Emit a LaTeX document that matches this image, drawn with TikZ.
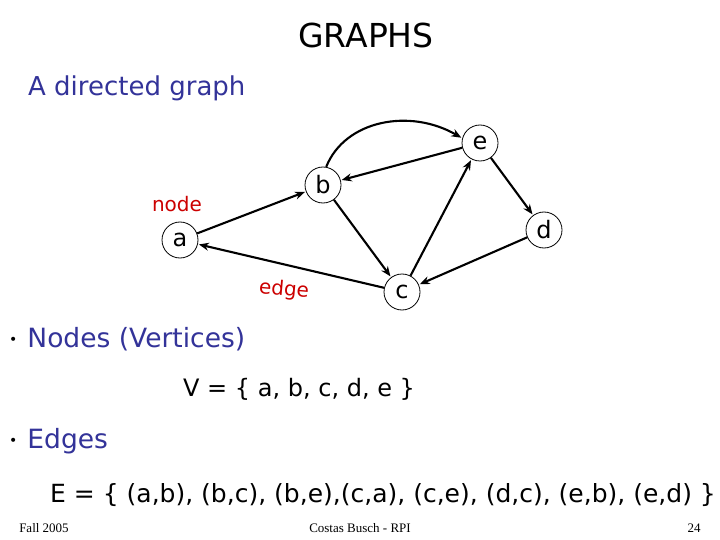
\documentclass[tikz,border=0pt]{standalone}
\usepackage{fontspec}
\setmainfont{DejaVu Sans}
\newfontfamily\footfont{Liberation Serif}
\usetikzlibrary{arrows.meta}
\definecolor{slideblue}{RGB}{51,51,153}
\definecolor{slidered}{RGB}{204,0,0}
\begin{document}
\begin{tikzpicture}[x=1pt,y=-1pt,
  vtx/.style={circle,draw,line width=0.8pt,minimum size=36pt,inner sep=0pt,font=\fontsize{24}{24}\selectfont},
  edg/.style={line width=2.1pt,-{Stealth[length=10pt,width=8pt]},shorten >=1pt},
  bluetext/.style={text=slideblue,anchor=base west,inner sep=0pt},
  blacktext/.style={text=black,anchor=base west,inner sep=0pt},
  foot/.style={font=\footfont\fontsize{13}{13}\selectfont,anchor=base,inner sep=0pt}]
\useasboundingbox[fill=white] (0,0) rectangle (720,540);
% title and headings
\node[inner sep=0pt,anchor=base,font=\fontsize{33}{33}\selectfont] (title) at (366,48) {GRAPHS};
\node[bluetext,font=\fontsize{26}{26}\selectfont] (sub) at (28,96) {A directed graph};
% graph
\node[vtx] (a) at (180,240) {a};
\node[vtx] (b) at (323,185) {b};
\node[vtx] (e) at (480,143) {e};
\node[vtx] (d) at (544,230) {d};
\node[vtx] (c) at (402,292) {c};
\node[text=slidered,font=\fontsize{20}{20}\selectfont] (nodelbl) at (177,204) {node};
\node[text=slidered,font=\fontsize{20}{20}\selectfont,rotate=-5] (edgelbl) at (284,290) {edge};
\draw[edg] (a) -- (b);
\draw[edg] (b) -- (c);
\draw[edg] (b.80) .. controls (345,120) and (410,108) .. (e.165);
\draw[edg] (c) -- (a);
\draw[edg] (c) -- (e);
\draw[edg] (d) -- (c);
\draw[edg] (e) -- (b);
\draw[edg] (e) -- (d);
% bullets
\node[bluetext,font=\fontsize{26.5}{26.5}\selectfont] (nodes) at (9,347) {{\color{black}\fontsize{14}{14}\selectfont\raisebox{3pt}{•}}\hspace{10pt}Nodes (Vertices)};
\node[blacktext,font=\fontsize{24}{24}\selectfont] (vset) at (183,396) {V = \{ a, b, c, d, e \}};
\node[bluetext,font=\fontsize{26.5}{26.5}\selectfont] (edges) at (9,448) {{\color{black}\fontsize{14}{14}\selectfont\raisebox{3pt}{•}}\hspace{10pt}Edges};
\node[blacktext,font=\fontsize{25}{25}\selectfont] (eset) at (50,502) {E = \{ (a,b), (b,c), (b,e),(c,a), (c,e), (d,c), (e,b), (e,d) \}};
% footer
\node[foot] (f1) at (44,532) {Fall 2005};
\node[foot] (f2) at (360,532) {Costas Busch - RPI};
\node[foot] (f3) at (694,532) {24};
\end{tikzpicture}
\end{document}
